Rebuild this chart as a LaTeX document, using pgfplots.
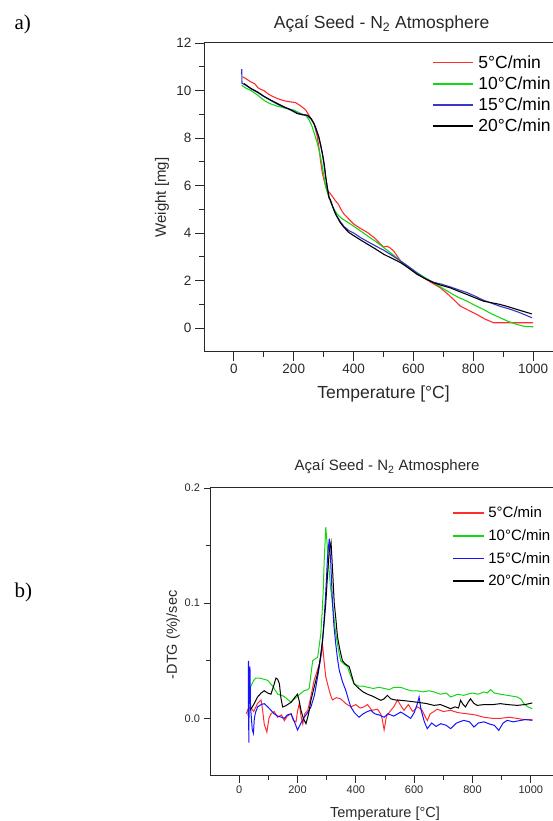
\documentclass[border=0pt]{standalone}
\usepackage{pgfplots}
\pgfplotsset{compat=1.18}
\usepackage{fontspec}
\setmainfont{Liberation Sans}
\newfontfamily\serif{Liberation Serif}

\definecolor{cred}{RGB}{255,45,45}
\definecolor{cgreen}{RGB}{20,215,20}
\definecolor{cbluea}{RGB}{55,55,200}
\definecolor{cblueb}{RGB}{20,20,255}
\definecolor{txt}{RGB}{45,40,40}

% panel a: weight [mg] vs temperature
\pgfplotstableread{
T W
29 10.58
40 10.50
57 10.36
70 10.28
80 10.12
90 10.05
100 10.00
115 9.85
130 9.75
146 9.66
160 9.60
175 9.55
190 9.52
205 9.50
220 9.38
229 9.30
240 9.18
250 8.98
268 8.60
278 8.10
284 7.62
290 7.00
296 6.50
305 6.05
312 5.80
320 5.70
329 5.55
340 5.35
349 5.22
360 4.95
368 4.80
385 4.58
401 4.38
420 4.22
446 4.03
470 3.80
490 3.54
500 3.42
512 3.45
522 3.38
534 3.25
545 3.05
557 2.83
575 2.62
590 2.48
610 2.30
634 2.13
660 1.92
690 1.70
720 1.38
757 0.93
785 0.75
812 0.58
840 0.38
868 0.23
900 0.23
950 0.23
1000 0.23
}\tgaA
\pgfplotstableread{
T W
26 10.22
40 10.10
57 10.00
80 9.80
100 9.59
120 9.45
146 9.34
175 9.25
201 9.17
220 9.05
240 8.96
252 8.75
262 8.46
270 8.15
279 7.77
288 7.30
296 6.77
302 6.30
307 5.93
315 5.60
325 5.25
335 5.00
345 4.80
360 4.62
375 4.50
390 4.38
420 4.12
446 3.89
475 3.64
501 3.39
530 3.11
557 2.83
585 2.58
612 2.34
640 2.12
668 1.91
695 1.70
723 1.49
750 1.30
779 1.14
806 0.96
834 0.79
862 0.60
890 0.44
918 0.28
946 0.16
970 0.08
1001 0.06
}\tgaB
\pgfplotstableread{
T W
26 10.90
27 10.30
40 10.22
60 10.05
79 9.92
100 9.75
124 9.58
146 9.42
168 9.30
190 9.20
212 9.05
230 8.98
245 8.96
258 8.80
268 8.60
276 8.30
284 8.00
290 7.70
296 7.30
302 6.80
307 6.35
312 5.90
318 5.50
323 5.37
332 5.05
340 4.80
355 4.50
368 4.28
385 4.10
401 4.00
425 3.80
446 3.65
475 3.45
501 3.28
530 3.05
557 2.83
585 2.58
612 2.32
640 2.08
668 1.93
695 1.85
723 1.74
750 1.62
779 1.50
806 1.35
834 1.18
862 1.05
890 0.92
918 0.82
946 0.70
970 0.58
996 0.44
}\tgaC
\pgfplotstableread{
T W
33 10.30
55 10.10
79 9.94
100 9.76
124 9.59
146 9.45
168 9.31
190 9.18
212 9.03
230 8.98
245 8.96
258 8.82
268 8.60
276 8.35
284 8.04
290 7.70
296 7.34
302 6.90
307 6.35
312 5.95
318 5.50
323 5.37
332 5.05
340 4.80
355 4.45
368 4.24
385 4.02
401 3.89
425 3.70
446 3.54
475 3.32
501 3.11
530 2.93
557 2.76
585 2.52
612 2.27
640 2.08
668 1.91
695 1.80
723 1.70
750 1.56
779 1.42
806 1.28
834 1.14
862 1.07
890 1.00
918 0.90
946 0.79
970 0.70
996 0.60
}\tgaD

% panel b: -DTG vs temperature
\pgfplotstableread{
T D
24 0.004
31 0.008
38 0.010
50 0.006
63 0.013
75 0.016
80 0.008
86 -0.005
95 -0.012
102 0.000
109 0.004
120 0.006
132 0.001
145 0.003
155 -0.002
165 0.002
178 0.004
186 -0.002
195 -0.003
200 0.006
206 0.013
212 0.002
218 -0.005
225 0.004
235 0.007
245 0.018
257 0.033
266 0.040
275 0.047
281 0.055
286 0.0635
291 0.050
297 0.036
303 0.030
309 0.024
315 0.019
320 0.016
333 0.018
348 0.017
365 0.013
383 0.010
400 0.012
415 0.009
428 0.010
440 0.012
455 0.007
474 0.008
485 0.004
490 0.000
497 -0.010
505 0.002
520 0.007
530 0.010
543 0.016
552 0.012
565 0.007
580 0.012
595 0.006
611 0.010
625 0.008
635 0.003
645 -0.002
655 0.004
668 0.006
679 0.008
700 0.006
725 0.007
750 0.005
782 0.004
810 0.003
839 0.001
870 0.000
896 0.000
925 0.001
953 0.000
975 -0.001
1005 -0.001
}\dtgA
\pgfplotstableread{
T D
33 0.021
40 0.028
50 0.033
57 0.035
70 0.035
85 0.034
98 0.033
115 0.028
132 0.021
145 0.020
155 0.019
168 0.016
178 0.014
190 0.017
200 0.019
212 0.022
223 0.024
235 0.025
240 0.026
246 0.038
252 0.050
262 0.052
269 0.053
275 0.064
280 0.074
284 0.090
288 0.110
292 0.140
297 0.166
302 0.150
308 0.130
314 0.112
320 0.100
326 0.085
331 0.074
340 0.060
348 0.050
360 0.047
371 0.045
382 0.037
394 0.030
410 0.028
425 0.028
440 0.027
460 0.026
480 0.027
497 0.026
515 0.025
530 0.027
554 0.027
575 0.025
590 0.024
611 0.024
630 0.023
650 0.024
668 0.023
690 0.021
710 0.022
725 0.0186
750 0.021
770 0.020
782 0.021
800 0.022
820 0.021
839 0.023
850 0.022
862 0.025
875 0.022
896 0.021
920 0.020
953 0.0186
965 0.017
976 0.013
990 0.010
1005 0.0084
}\dtgB
\pgfplotstableread{
T D
31 0.002
32 0.050
33 -0.021
35 0.040
37 0.045
39 0.010
42 0.000
45 -0.010
49 -0.013
52 0.000
56 0.005
63 0.0099
75 0.012
86 0.0128
98 0.010
109 0.007
120 0.004
132 0.002
145 0.001
155 0.000
165 0.003
178 0.004
188 -0.002
200 -0.010
212 -0.004
223 0.001
235 0.005
246 0.0099
258 0.020
269 0.036
278 0.050
286 0.068
291 0.085
297 0.110
303 0.140
309 0.156
314 0.135
320 0.100
325 0.080
331 0.065
337 0.052
343 0.042
354 0.032
366 0.024
375 0.016
383 0.0099
395 0.005
411 0.001
425 0.004
440 0.006
451 0.007
465 0.004
480 0.003
497 0.001
510 0.004
530 0.002
554 0.0055
570 0.003
588 0.000
600 0.005
610 0.012
617 0.0186
623 0.008
635 -0.003
645 -0.0089
660 -0.004
675 -0.007
691 -0.0046
710 -0.006
725 -0.0089
745 -0.004
770 -0.0017
790 -0.003
805 -0.0075
820 -0.004
839 -0.003
860 -0.005
875 -0.006
890 -0.0104
905 -0.004
919 -0.0017
940 -0.003
960 -0.002
980 -0.001
1005 -0.0017
}\dtgC
\pgfplotstableread{
T D
37 0.007
50 0.012
63 0.0186
75 0.022
86 0.024
98 0.022
109 0.021
118 0.028
126 0.035
132 0.034
138 0.030
143 0.018
149 0.0099
160 0.011
178 0.014
190 0.018
200 0.021
206 0.015
212 0.007
220 0.000
229 -0.0046
238 0.004
246 0.0157
258 0.028
269 0.039
278 0.052
286 0.068
292 0.085
297 0.100
303 0.125
309 0.145
315 0.153
320 0.130
326 0.100
332 0.085
337 0.071
345 0.060
354 0.050
365 0.047
377 0.045
385 0.038
394 0.030
410 0.026
425 0.023
440 0.021
460 0.019
475 0.017
486 0.0157
497 0.017
508 0.020
520 0.017
535 0.016
554 0.0157
580 0.015
611 0.014
640 0.013
668 0.0113
690 0.012
710 0.010
725 0.0084
740 0.010
752 0.009
759 0.0157
768 0.012
776 0.0099
785 0.014
793 0.017
805 0.013
816 0.0113
840 0.012
870 0.012
896 0.0128
920 0.012
953 0.0113
980 0.012
1005 0.0134
}\dtgD

\pgfplotsset{
  tgastyle/.style={
    scale only axis,
    xmin=-100, xmax=1100,
    xtick={0,200,...,1000},
    minor x tick num=1,
    minor y tick num=1,
    tick align=outside,
    xtick pos=bottom, ytick pos=left,
    axis line style={line width=1pt, txt},
    major tick style={line width=0.9pt, txt},
    minor tick style={line width=0.9pt, txt},
    /pgf/number format/assume math mode=true,
    /pgf/number format/set thousands separator={},
    ticklabel style={txt},
    label style={txt},
    title style={txt},
    legend cell align=left,
    legend style={draw=none, fill=none},
  },
}

\begin{document}
\begin{tikzpicture}
\path[use as bounding box] (0pt,0pt) rectangle (553pt,821pt);
\clip (0pt,0pt) rectangle (553pt,821pt);

\node[anchor=base west, font=\serif\fontsize{21}{21}\selectfont] at (11pt,791pt) {a)};
\node[anchor=base west, font=\serif\fontsize{21}{21}\selectfont] at (11pt,223pt) {b)};

% ---------- a) ----------
\begin{axis}[tgastyle,
  at={(204pt,469pt)}, anchor=south west,
  width=359pt, height=309pt,
  ymin=-1, ymax=12,
  ytick={0,2,...,12},
  major tick length=9pt, minor tick length=5pt,
  ticklabel style={font=\fontsize{13.5}{14}\selectfont},
  title={Açaí Seed - N\textsubscript{2} Atmosphere},
  title style={font=\fontsize{17.5}{18}\selectfont, at={(axis description cs:0.495,1)}, anchor=center, yshift=13pt},
  xlabel={Temperature [°C]},
  xlabel style={font=\fontsize{17.5}{18}\selectfont, at={(axis description cs:0.5,0)}, anchor=center, yshift=-42pt},
  ylabel={Weight [mg]},
  ylabel style={font=\fontsize{15}{16}\selectfont, at={(axis description cs:0,0.5)}, anchor=center, yshift=42pt},
  legend style={at={(rel axis cs:0.635,0.965)}, anchor=north west, font=\fontsize{17.5}{18}\selectfont, row sep=4pt, inner sep=0pt, nodes={inner sep=1.5pt}, /tikz/every odd column/.append style={column sep=3pt}},
  legend image code/.code={\draw[#1, line width=1.8pt] (0pt,0pt) -- (40pt,0pt);},
]
\addplot[color=cred, line width=1.1pt] table[x=T, y=W] {\tgaA};
\addplot[color=cgreen, line width=1.1pt] table[x=T, y=W] {\tgaB};
\addplot[color=cbluea, line width=1.1pt] table[x=T, y=W] {\tgaC};
\addplot[color=black, line width=1.1pt] table[x=T, y=W] {\tgaD};
\legend{5°C/min, 10°C/min, 15°C/min, 20°C/min}
\end{axis}

% ---------- b) ----------
\begin{axis}[tgastyle,
  at={(210pt,45pt)}, anchor=south west,
  width=350pt, height=288pt,
  ymin=-0.05, ymax=0.2,
  ytick={0,0.1,0.2},
  yticklabel style={/pgf/number format/fixed, /pgf/number format/fixed zerofill, /pgf/number format/precision=1},
  major tick length=6.5pt, minor tick length=4pt,
  ticklabel style={font=\fontsize{11}{12}\selectfont},
  title={Açaí Seed - N\textsubscript{2} Atmosphere},
  title style={font=\fontsize{15}{16}\selectfont, at={(axis description cs:0.506,1)}, anchor=center, yshift=15pt},
  xlabel={Temperature [°C]},
  xlabel style={font=\fontsize{14.5}{15}\selectfont, at={(axis description cs:0.5,0)}, anchor=center, yshift=-38pt},
  ylabel={-DTG (\%)/sec},
  ylabel style={font=\fontsize{14.5}{15}\selectfont, at={(axis description cs:0,0.49)}, anchor=center, yshift=37pt},
  legend style={at={(rel axis cs:0.691,0.94)}, anchor=north west, font=\fontsize{15}{15}\selectfont, row sep=7.3pt, inner sep=0pt, nodes={inner sep=1.5pt}, /tikz/every odd column/.append style={column sep=2pt}},
  legend image code/.code={\draw[#1, line width=1.8pt] (0pt,0pt) -- (31pt,0pt);},
]
\addplot[color=cred, line width=1pt] table[x=T, y=D] {\dtgA};
\addplot[color=cgreen, line width=1pt] table[x=T, y=D] {\dtgB};
\addplot[color=cblueb, line width=1pt] table[x=T, y=D] {\dtgC};
\addplot[color=black, line width=1pt] table[x=T, y=D] {\dtgD};
\legend{5°C/min, 10°C/min, 15°C/min, 20°C/min}
\end{axis}
\end{tikzpicture}
\end{document}
